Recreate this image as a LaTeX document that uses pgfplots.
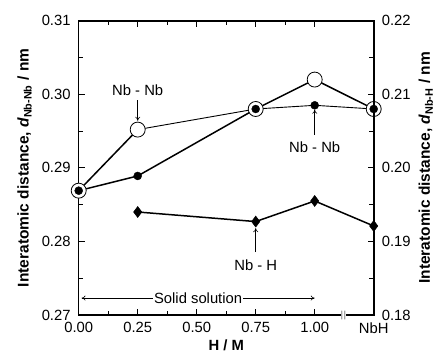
\documentclass[border=0pt]{standalone}
\usepackage{fontspec}
\setmainfont{Liberation Sans}
\usepackage{pgfplots}
\pgfplotsset{compat=1.18}
\usetikzlibrary{arrows.meta}
\begin{document}
\fontsize{14.8}{17}\selectfont
\begin{tikzpicture}
\pgfplotsset{
  every axis/.append style={
    scale only axis, width=295pt, height=294.3pt,
    xmin=0, xmax=1.25,
    /pgf/number format/assume math mode=true,
    tick style={black, line width=1pt},
    major tick length=6pt, minor tick length=4.5pt,
    axis line style={line width=1.6pt},
    tick label style={font=\fontsize{14.8}{17}\selectfont},
    label style={font=\bfseries\fontsize{14.8}{17}\selectfont},
    clip=false,
  }
}
\begin{axis}[
  at={(0,0)}, anchor=south west,
  ymin=0.27, ymax=0.31,
  xtick={0,0.25,0.5,0.75,1.0,1.25},
  xticklabels={0.00,0.25,0.50,0.75,1.00,NbH},
  minor xtick={0.125,0.375,0.625,0.875},
  ytick={0.27,0.28,0.29,0.30,0.31},
  yticklabels={0.27,0.28,0.29,0.30,0.31},
  minor ytick={0.275,0.285,0.295,0.305},
  ytick pos=left, xtick pos=both,
  xticklabel style={yshift=-2.5pt},
  yticklabel style={xshift=-3pt},
  xlabel={H / M},
  ylabel={Interatomic distance, \textit{d}\textsubscript{Nb-Nb} / nm},
  xlabel style={yshift=4pt},
  ylabel style={yshift=0pt, font=\bfseries\fontsize{15.5}{17}\selectfont},
]
% open-circle Nb-Nb series (line segments)
\addplot[black, line width=1.5pt] coordinates {(0,0.2869) (0.25,0.2952)};
\addplot[black, line width=0.9pt] coordinates {(0.25,0.2952) (0.75,0.2980)};
\addplot[black, line width=1.5pt] coordinates {(0.75,0.2980) (1.00,0.3020) (1.25,0.2980)};
% filled Nb-Nb series
\addplot[black, line width=1.5pt] coordinates {(0,0.2869) (0.25,0.2889) (0.75,0.2980)};
\addplot[black, line width=0.9pt] coordinates {(0.75,0.2980) (1.00,0.2985) (1.25,0.2980)};
% markers
\addplot[only marks, mark=*, mark size=7.5pt, mark options={fill=white, draw=black, line width=0.8pt}]
  coordinates {(0,0.2869) (0.25,0.2952) (0.75,0.2980) (1.00,0.3020) (1.25,0.2980)};
\addplot[only marks, mark=*, mark size=4pt, mark options={fill=black, draw=black}]
  coordinates {(0,0.2869) (0.25,0.2889) (0.75,0.2980) (1.00,0.2985) (1.25,0.2980)};
% annotations
\node at (axis cs:0.25,0.3006) {Nb - Nb};
\draw[-{To[length=4pt,width=5pt]}, line width=0.6pt] (axis cs:0.25,0.2992) -- (axis cs:0.25,0.2964);
\node at (axis cs:1.00,0.2928) {Nb - Nb};
\draw[-{To[length=4pt,width=5pt]}, line width=0.6pt] (axis cs:1.00,0.2945) -- (axis cs:1.00,0.2979);
\node at (axis cs:0.75,0.2768) {Nb - H};
\draw[-{To[length=4pt,width=5pt]}, line width=0.6pt] (axis cs:0.75,0.27855) -- (axis cs:0.75,0.2818);
\draw[{To[length=4pt,width=5pt]}-{To[length=4pt,width=5pt]}, line width=0.6pt] (axis cs:0.012,0.2723) -- (axis cs:1.0,0.2723)
  node[midway, fill=white, inner sep=1pt] {Solid solution};
% axis break mark
\fill[white] (axis cs:1.112,0.2697) rectangle (axis cs:1.132,0.2703);
\draw[line width=0.6pt] (axis cs:1.115,0.2694) .. controls (axis cs:1.118,0.2699) and (axis cs:1.112,0.2701) .. (axis cs:1.115,0.2706);
\draw[line width=0.6pt] (axis cs:1.128,0.2694) .. controls (axis cs:1.131,0.2699) and (axis cs:1.125,0.2701) .. (axis cs:1.128,0.2706);
\end{axis}
\begin{axis}[
  at={(0,0)}, anchor=south west,
  ymin=0.18, ymax=0.22,
  axis x line=none,
  axis y line*=right,
  ytick={0.18,0.19,0.20,0.21,0.22},
  yticklabels={0.18,0.19,0.20,0.21,0.22},
  minor ytick={0.185,0.195,0.205,0.215},
  yticklabel style={xshift=3pt},
  ylabel={Interatomic distance, \textit{d}\textsubscript{Nb-H} / nm},
  ylabel style={yshift=2pt, font=\bfseries\fontsize{15.5}{17}\selectfont},
]
\addplot[black, line width=1.5pt, mark=diamond*, mark size=5.5pt, mark options={fill=black, line width=0.5pt}]
  coordinates {(0.25,0.1940) (0.75,0.1927) (1.00,0.1955) (1.25,0.1921)};
\end{axis}
\useasboundingbox (-78.7pt,-45pt) rectangle (359.3pt,315pt);
\end{tikzpicture}
\end{document}
